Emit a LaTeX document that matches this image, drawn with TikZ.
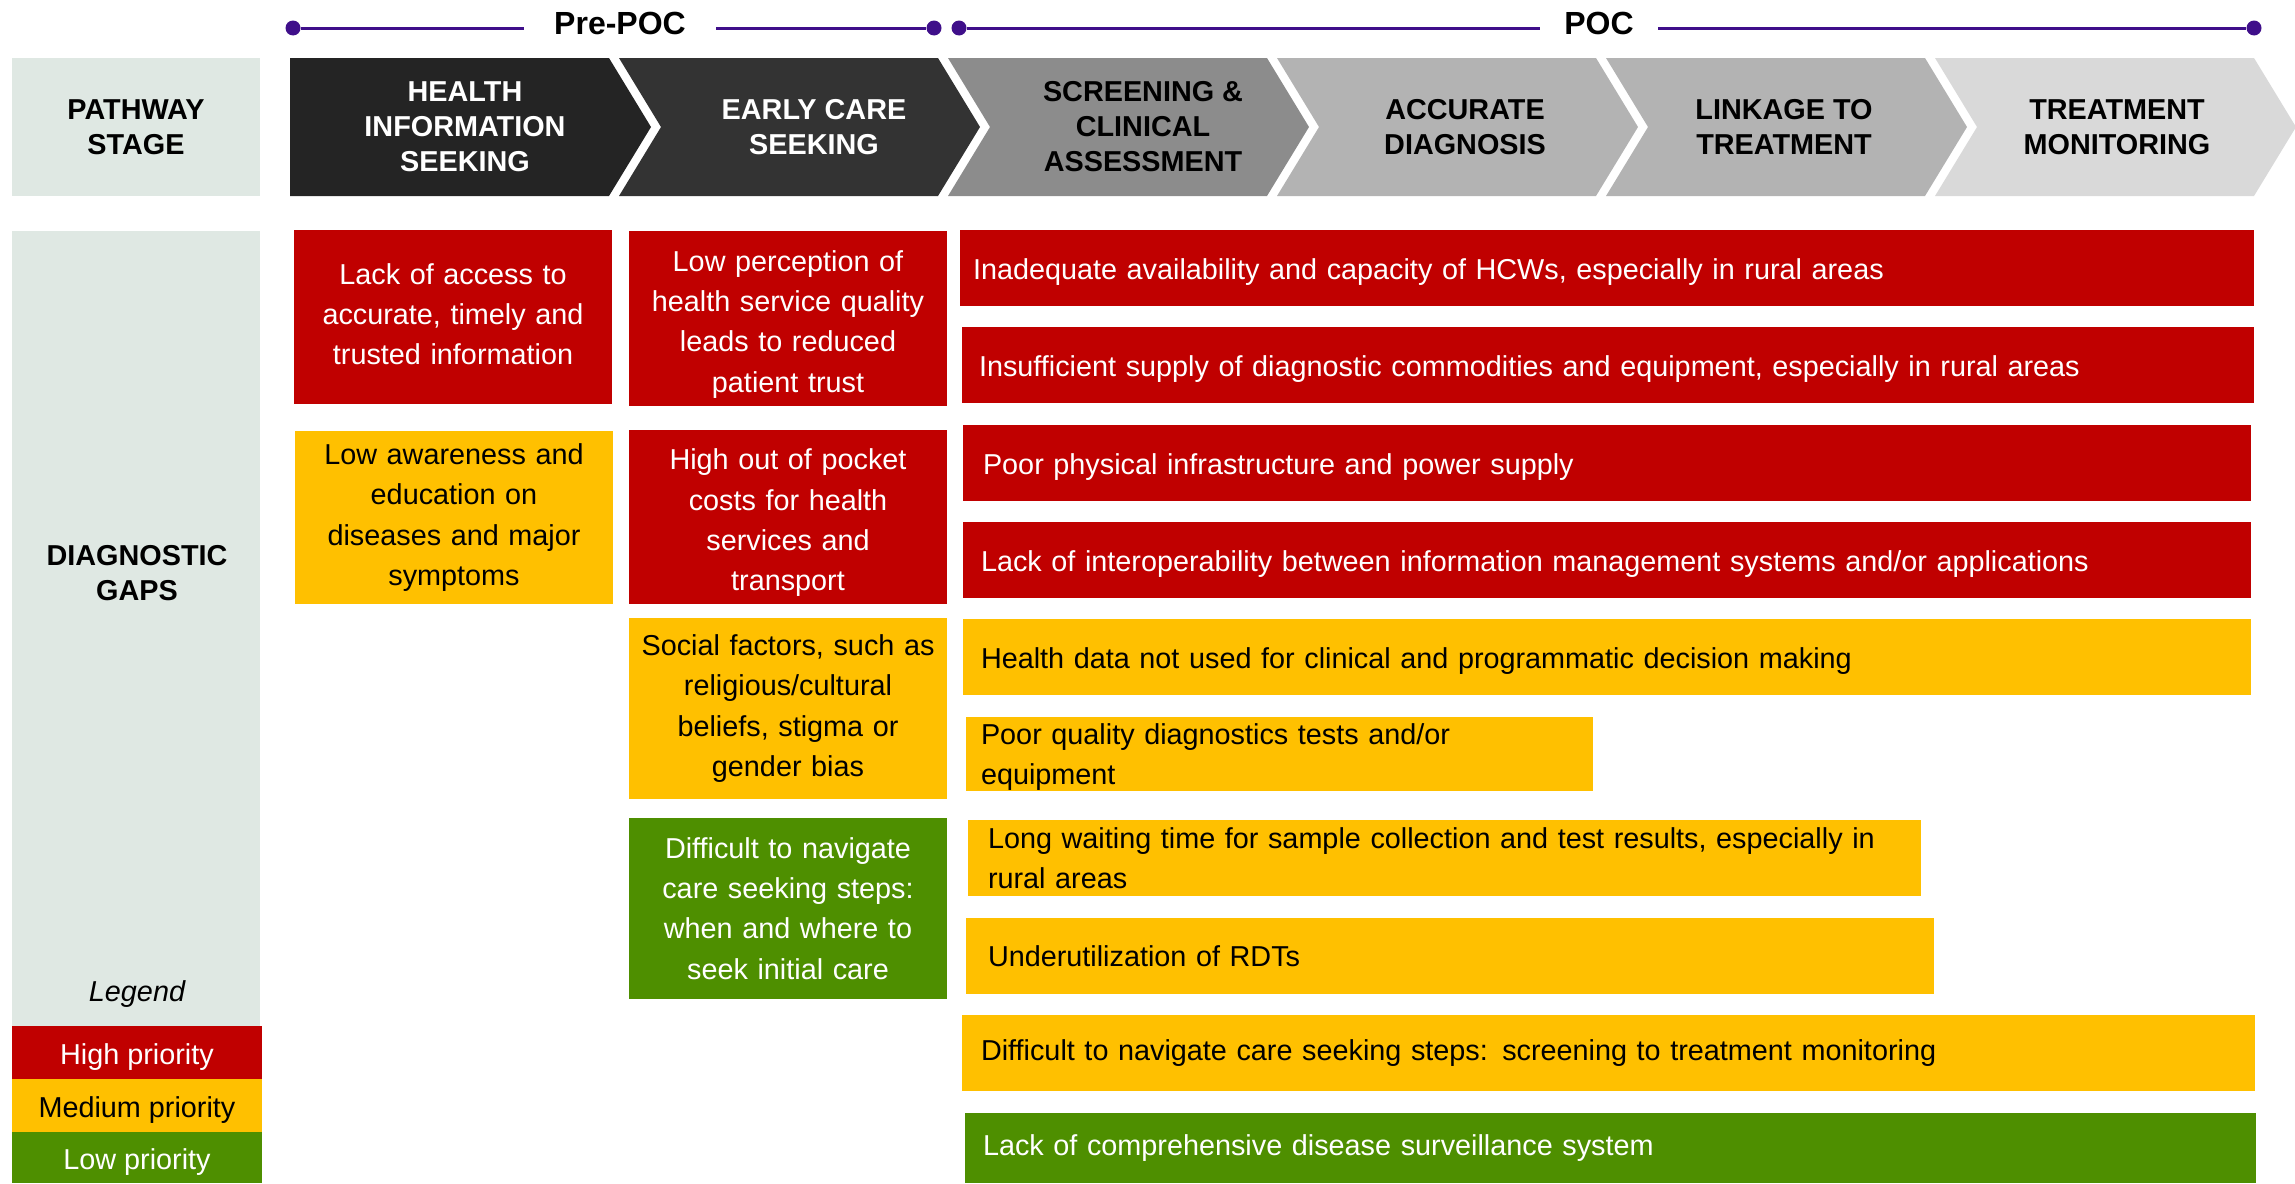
\documentclass[tikz,border=0pt]{standalone}
\usepackage{fontspec}
\setmainfont{Liberation Sans}
\definecolor{hired}{HTML}{C00000}
\definecolor{medyel}{HTML}{FFC000}
\definecolor{lowgrn}{HTML}{4E8F00}
\definecolor{panelc}{HTML}{DFE8E3}
\definecolor{tlpurple}{HTML}{3F0F8A}
\definecolor{chA}{HTML}{242424}
\definecolor{chB}{HTML}{333333}
\definecolor{chC}{HTML}{8C8C8C}
\definecolor{chD}{HTML}{B3B3B3}
\definecolor{chE}{HTML}{D9D9D9}
\newcommand{\downstrut}{\rule{0pt}{16.2pt}}
\newcommand{\smallstrut}{\rule{0pt}{13.6pt}}
\newcommand{\upstrut}{\rule[-3pt]{0pt}{3pt}}
\begin{document}
\begin{tikzpicture}[x=0.5pt,y=-0.5pt,
  body/.style={font=\fontsize{14.4}{20.15}\selectfont},
  head/.style={font=\bfseries\fontsize{14.4}{17.5}\selectfont, align=center, inner sep=0pt},
  gbox/.style={anchor=north west, inner ysep=0pt, outer sep=0pt, body},
  cbox/.style={gbox, inner xsep=1.5pt, text width=156pt, align=center, minimum width=159pt},
  wbox/.style={gbox, align=left},
  lowered/.style={text height=14.5pt, text depth=3pt},
  hi/.style={fill=hired, text=white},
  med/.style={fill=medyel, text=black},
  low/.style={fill=lowgrn, text=white},
  panelbox/.style={fill=panelc, anchor=north west, inner sep=0pt, outer sep=0pt, minimum width=124pt},
  legbox/.style={gbox, minimum width=125pt, inner xsep=0pt, lowered},
  dotn/.style={circle, fill=tlpurple, inner sep=0pt, minimum size=7.5pt},
  tlline/.style={draw=tlpurple, line width=1.5pt},
  tltext/.style={font=\bfseries\fontsize{16}{18}\selectfont, inner ysep=0pt}
]
\useasboundingbox (0,0) rectangle (2295,1183);

% timeline
\node[dotn] (d1) at (293,28) {};
\node[dotn] (d2) at (934,28) {};
\node[dotn] (d3) at (959,28) {};
\node[dotn] (d4) at (2254,28) {};
\node[tltext, inner xsep=15pt] (prepoc) at (620,23) {Pre-POC};
\node[tltext, inner xsep=12pt] (poc) at (1599,23) {POC};
\draw[tlline] (d1) -- (prepoc.west |- d1);
\draw[tlline] (prepoc.east |- d2) -- (d2);
\draw[tlline] (d3) -- (poc.west |- d3);
\draw[tlline] (poc.east |- d4) -- (d4);

% pathway stage
\node[panelbox, minimum height=69pt, head] (pathway) at (12,58) {PATHWAY\\STAGE};

% chevrons
\foreach \i/\col in {0/chA,1/chB,2/chC,3/chD,4/chD,5/chE} {
  \pgfmathsetmacro\L{290+329*\i}
  \pgfmathsetmacro\R{\L+319}
  \pgfmathsetmacro\N{\L+42*min(\i,1)}
  \fill[\col] (\L,58) -- (\R,58) -- (\R+42,127) -- (\R,196) -- (\L,196) -- (\N,127) -- cycle;
}
\node[head, text=white] (s1) at (465,127) {HEALTH\\INFORMATION\\SEEKING};
\node[head, text=white] (s2) at (814,127) {EARLY CARE\\SEEKING};
\node[head] (s3) at (1143,127) {SCREENING \&\\CLINICAL\\ASSESSMENT};
\node[head] (s4) at (1465,127) {ACCURATE\\DIAGNOSIS};
\node[head] (s5) at (1784,127) {LINKAGE TO\\TREATMENT};
\node[head] (s6) at (2117,127) {TREATMENT\\MONITORING};

% diagnostic gaps panel
\node[panelbox, minimum height=397.5pt] (diagpanel) at (12,231) {};
\node[head] (diaglabel) at (137,573) {DIAGNOSTIC\\GAPS};
\node[body, font=\itshape\fontsize{14.4}{20.15}\selectfont, inner sep=0pt] (legendlabel) at (137,994) {Legend};
\node[legbox, hi, minimum height=26.5pt] (lhigh) at (12,1026) {High priority};
\node[legbox, med, minimum height=26.5pt] (lmed) at (12,1079) {Medium priority};
\node[legbox, low, minimum height=25.5pt] (llow) at (12,1132) {Low priority};

% column 1
\node[cbox, hi, minimum height=87pt] (a1) at (294,230) {Lack of access to\\accurate, timely and\\trusted information\upstrut};
\node[cbox, med, minimum height=86.5pt] (a2) at (295,431) {Low awareness and\\education on\\diseases and major\\symptoms};

% column 2
\node[cbox, hi, minimum height=87.5pt] (b1) at (629,231) {\downstrut Low perception of\\health service quality\\leads to reduced\\patient trust};
\node[cbox, hi, minimum height=87pt] (b2) at (629,430) {\downstrut High out of pocket\\costs for health\\services and\\transport};
\node[cbox, med, minimum height=90.5pt] (b3) at (629,618) {Social factors, such as\\religious/cultural\\beliefs, stigma or\\gender bias};
\node[cbox, low, minimum height=90.5pt] (b4) at (629,818) {Difficult to navigate\\care seeking steps:\\when and where to\\seek initial care};

% column 3
\node[wbox, hi, lowered, minimum width=647pt, minimum height=38pt, inner xsep=6.5pt, text width=634pt] (c1) at (960,230) {Inadequate availability and capacity of HCWs, especially in rural areas};
\node[wbox, hi, lowered, minimum width=646pt, minimum height=38pt, inner xsep=8.5pt, text width=629pt] (c2) at (962,327) {Insufficient supply of diagnostic commodities and equipment, especially in rural areas};
\node[wbox, hi, lowered, minimum width=644pt, minimum height=38pt, inner xsep=10pt, text width=624pt] (c3) at (963,425) {Poor physical infrastructure and power supply};
\node[wbox, hi, lowered, minimum width=644pt, minimum height=38pt, inner xsep=9pt, text width=626pt] (c4) at (963,522) {Lack of interoperability between information management systems and/or applications};
\node[wbox, med, lowered, minimum width=644pt, minimum height=38pt, inner xsep=9pt, text width=626pt] (c5) at (963,619) {Health data not used for clinical and programmatic decision making};
\node[wbox, med, minimum width=313.5pt, minimum height=37pt, inner xsep=7.5pt, text width=298.5pt] (c6) at (966,717) {\smallstrut Poor quality diagnostics tests and/or\\equipment};
\node[wbox, med, minimum width=476.5pt, minimum height=38pt, inner xsep=10pt, text width=456.5pt] (c7) at (968,820) {Long waiting time for sample collection and test results, especially in\\rural areas};
\node[wbox, med, minimum width=484pt, minimum height=38pt, inner xsep=11pt, text width=462pt] (c8) at (966,918) {Underutilization of RDTs};
\node[wbox, med, minimum width=646.5pt, minimum height=38pt, inner xsep=9.5pt, text width=627.5pt] (c9) at (962,1015) {Difficult to navigate care seeking steps: screening to treatment monitoring};
\node[wbox, low, minimum width=645.5pt, minimum height=35pt, inner xsep=9pt, text width=627.5pt] (c10) at (965,1113) {Lack of comprehensive disease surveillance system};
\end{tikzpicture}
\end{document}
